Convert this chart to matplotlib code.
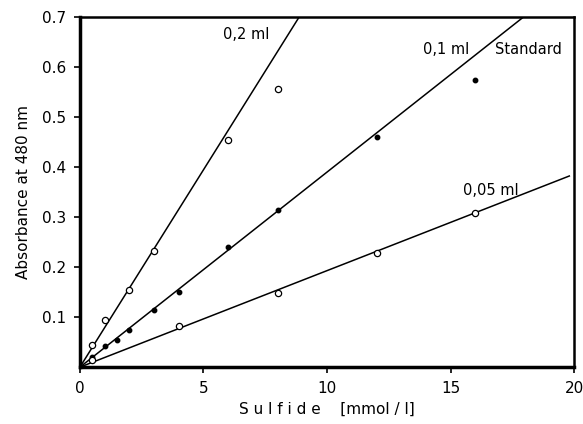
import matplotlib
matplotlib.use("Agg")
import matplotlib.pyplot as plt
import numpy as np

# data
x_02 = [0.5, 1, 2, 3, 6, 8]
y_02 = [0.045, 0.095, 0.155, 0.233, 0.455, 0.557]
x_01 = [0.5, 1, 1.5, 2, 3, 4, 6, 8, 12, 16]
y_01 = [0.02, 0.042, 0.055, 0.075, 0.115, 0.15, 0.24, 0.315, 0.46, 0.575]
x_005 = [0.5, 4, 8, 12, 16]
y_005 = [0.015, 0.082, 0.148, 0.228, 0.308]
slopes = {"0,2 ml": 0.0789, "0,1 ml": 0.039, "0,05 ml": 0.0193}
line_xmax = {"0,2 ml": 8.87, "0,1 ml": 17.94, "0,05 ml": 19.8}
xticks = [0, 5, 10, 15, 20]
yticks = [0.1, 0.2, 0.3, 0.4, 0.5, 0.6, 0.7]

fig = plt.figure(figsize=(5.83, 4.24), dpi=100)
ax = fig.add_axes([0.137, 0.134, 0.848, 0.826])

for name, s in slopes.items():
    xs = np.array([0, line_xmax[name]])
    ax.plot(xs, s * xs, color="black", lw=1.1)

ax.plot(x_02, y_02, "o", mfc="white", mec="black", ms=4.5, mew=0.9)
ax.plot(x_01, y_01, "o", mfc="black", mec="black", ms=3.2)
ax.plot(x_005, y_005, "o", mfc="white", mec="black", ms=4.5, mew=0.9)

ax.text(5.8, 0.655, "0,2 ml", fontsize=10.5)
ax.text(13.9, 0.625, "0,1 ml", fontsize=10.5)
ax.text(16.8, 0.625, "Standard", fontsize=10.5)
ax.text(15.5, 0.345, "0,05 ml", fontsize=10.5)

ax.set_xlim(0, 20)
ax.set_ylim(0, 0.7)
ax.set_xticks(xticks)
ax.set_xticklabels([str(v) for v in xticks])
ax.set_yticks(yticks)
ax.set_yticklabels([f"{v:.1f}" for v in yticks])
ax.tick_params(direction="out", length=4, width=1.2, labelsize=11, pad=6)
for sp in ax.spines.values():
    sp.set_linewidth(1.8)
ax.spines["left"].set_linewidth(2.5)
ax.spines["bottom"].set_linewidth(2.5)

ax.set_ylabel("Absorbance at 480 nm", fontsize=11, labelpad=8)
ax.set_xlabel("S u l f i d e    [mmol / l]", fontsize=11, labelpad=4)

fig.savefig("out.png", dpi=100)
